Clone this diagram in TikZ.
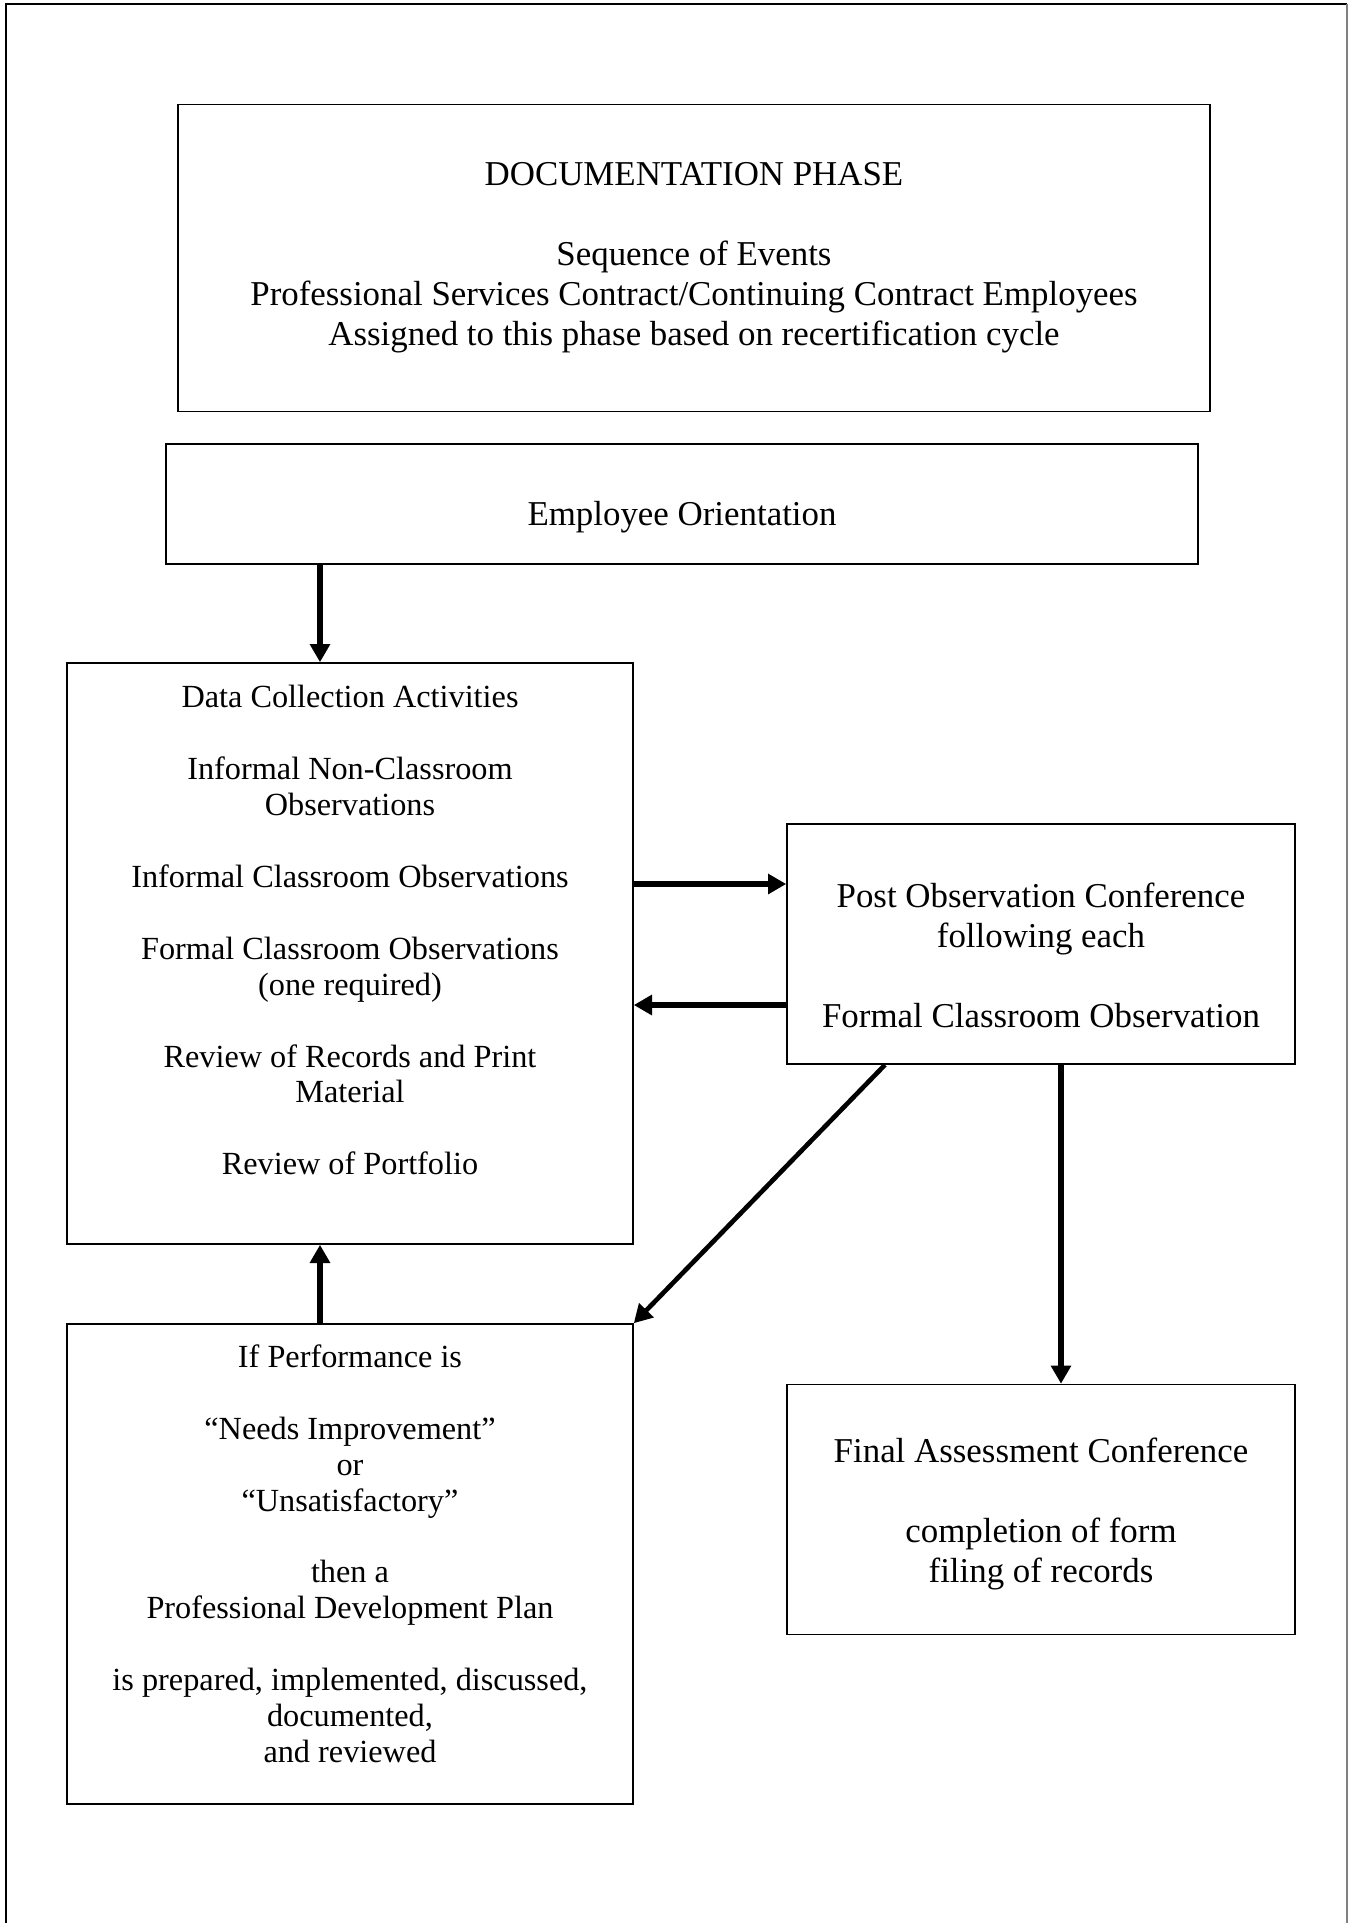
\documentclass[tikz,border=0pt]{standalone}
\usepackage{fontspec}
\setmainfont{Liberation Serif}
\usetikzlibrary{arrows.meta}
\newcommand{\pxu}{0.0135cm}
\newcommand{\smalltxt}{\fontsize{12.4}{13.8}\selectfont}
\newcommand{\bigtxt}{\fontsize{13.4}{15.4}\selectfont}
\begin{document}
\begin{tikzpicture}[x=\pxu, y=-\pxu,
    box/.style={draw, line width=0.6pt, inner sep=0pt, align=center},
    flow/.style={-{Triangle[length=7pt,width=7.5pt]}, line width=2.2pt}]
\useasboundingbox (0,0) rectangle (1349,1923);
\draw[line width=0.8pt] (6,1923) -- (6,4) -- (1347,4);
\draw[gray, line width=0.6pt] (1347,4) -- (1347,1923);
\node[box, font=\bigtxt, minimum width=1032*\pxu, minimum height=307*\pxu] (phase) at (694,258)
    {DOCUMENTATION PHASE\\[15.4pt]Sequence of Events\\Professional Services Contract/Continuing Contract Employees\\Assigned to this phase based on recertification cycle};
\node[box, font=\bigtxt, minimum width=1032*\pxu, minimum height=120*\pxu, text height=16.4pt, text depth=0pt] (orient) at (682,504)
    {Employee Orientation};
\node[box, font=\smalltxt, minimum width=566*\pxu, minimum height=581*\pxu, text depth=18pt] (data) at (350,953.5)
    {Data Collection Activities\\[13.8pt]Informal Non-Classroom\\Observations\\[13.8pt]Informal Classroom Observations\\[13.8pt]Formal Classroom Observations\\(one required)\\[13.8pt]Review of Records and Print\\Material\\[13.8pt]Review of Portfolio};
\node[box, font=\bigtxt, minimum width=508*\pxu, minimum height=240*\pxu] (post) at (1041,944)
    {\rule{0pt}{18pt}Post Observation Conference\\following each\\[15.4pt]Formal Classroom Observation};
\node[box, font=\smalltxt, minimum width=566*\pxu, minimum height=480*\pxu, text depth=8pt] (plan) at (350,1564)
    {If Performance is\\[13.8pt]``Needs Improvement''\\or\\``Unsatisfactory''\\[13.8pt]then a\\Professional Development Plan\\[13.8pt]is prepared, implemented, discussed,\\documented,\\and reviewed};
\node[box, font=\bigtxt, minimum width=508*\pxu, minimum height=250*\pxu] (final) at (1041,1509.5)
    {\rule{0pt}{13pt}Final Assessment Conference\\[15.4pt]completion of form\\filing of records};
\coordinate (xl) at (320,0);
\coordinate (xd) at (885,0);
\coordinate (xr) at (1061,0);
\coordinate (ya) at (0,884);
\coordinate (yb) at (0,1005);
\draw[flow] (orient.south -| xl) -- (data.north -| xl);
\draw[flow] (data.east |- ya) -- (post.west |- ya);
\draw[flow] (post.west |- yb) -- (data.east |- yb);
\draw[flow, line width=1.8pt] (post.south -| xd) -- (plan.north east);
\draw[flow] (post.south -| xr) -- (final.north -| xr);
\draw[flow] (plan.north -| xl) -- (data.south -| xl);
\end{tikzpicture}
\end{document}
